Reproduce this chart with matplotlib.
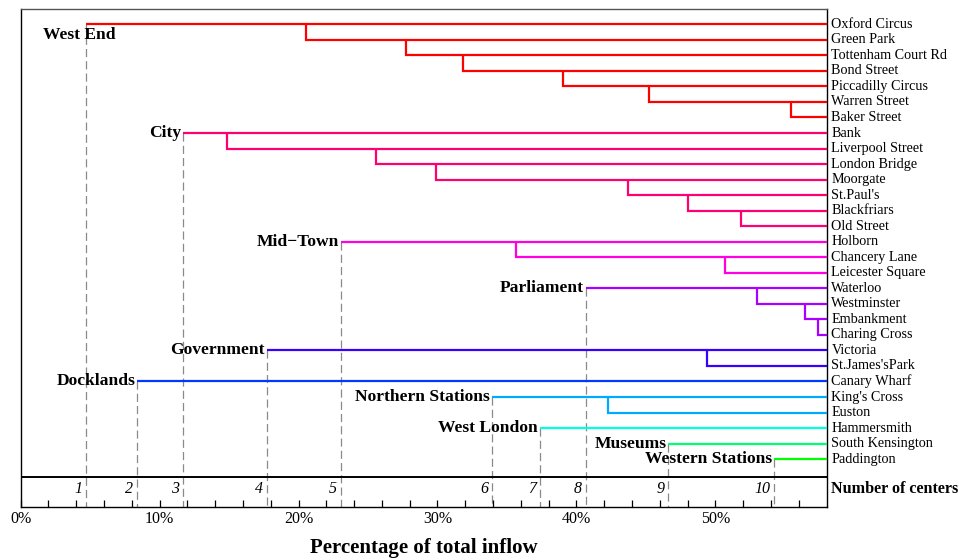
import matplotlib
matplotlib.use("Agg")
import matplotlib.pyplot as plt
import matplotlib.transforms as mtransforms
import numpy as np

plt.rcParams['font.family'] = ['Liberation Serif', 'DejaVu Serif']

# ---------------- data ----------------
stations = ["Oxford Circus", "Green Park", "Tottenham Court Rd", "Bond Street",
            "Piccadilly Circus", "Warren Street", "Baker Street",
            "Bank", "Liverpool Street", "London Bridge", "Moorgate", "St.Paul's",
            "Blackfriars", "Old Street",
            "Holborn", "Chancery Lane", "Leicester Square",
            "Waterloo", "Westminster", "Embankment", "Charing Cross",
            "Victoria", "St.James'sPark",
            "Canary Wharf",
            "King's Cross", "Euston",
            "Hammersmith",
            "South Kensington",
            "Paddington"]

# percentage at which each station splits from the previous one (None = group root)
split_pct = [None, 20.52, 27.74, 31.87, 39.02, 45.21, 55.41,
             None, 14.85, 25.60, 29.90, 43.74, 48.02, 51.88,
             None, 35.66, 50.66,
             None, 53.03, 56.46, 57.38,
             None, 49.43,
             None,
             None, 42.26,
             None,
             None,
             None]

groups = ["West End", "City", "Mid\u2212Town", "Parliament", "Government",
          "Docklands", "Northern Stations", "West London", "Museums",
          "Western Stations"]
group_sizes = [7, 7, 3, 4, 2, 1, 2, 1, 1, 1]
group_pct = [4.72, 11.71, 23.06, 40.70, 17.71, 8.39, 33.93, 37.39, 46.62, 54.23]
group_num = [1, 3, 5, 8, 4, 2, 6, 7, 9, 10]
group_colors = ["#FF0000", "#FF0071", "#FF00E3", "#AA00FF", "#3800FF",
                "#0038FF", "#00AAFF", "#00FFE3", "#00FF71", "#00FF00"]

x_max = 58.0
pct_ticks = np.arange(0, 58, 2)
pct_labels = [f"{int(t)}%" if t % 10 == 0 else "" for t in pct_ticks]

# ---------------- figure ----------------
W, H = 959, 560
fig = plt.figure(figsize=(W / 100, H / 100), dpi=100)
left, right, top, bottom = 20.7, 826.5, 9.0, 506.5
ax = fig.add_axes([left / W, 1 - bottom / H, (right - left) / W, (bottom - top) / H])

row0, drow = 24.3, 15.53
ylim_top = (top - row0) / drow
ylim_bot = (bottom - row0) / drow
sep_y = (477.0 - row0) / drow
num_y = (489.0 - row0) / drow

ax.set_xlim(0, x_max)
ax.set_ylim(ylim_bot, ylim_top)

lw = 1.6
idx = 0
for g, size in enumerate(group_sizes):
    col = group_colors[g]
    root = group_pct[g]
    y0 = idx
    ax.plot([root, x_max], [y0, y0], color=col, lw=lw, solid_capstyle='butt', zorder=3)
    for k in range(1, size):
        j = idx + k
        s = split_pct[j]
        ax.plot([s, s, x_max], [j - 1, j, j], color=col, lw=lw,
                solid_capstyle='butt', solid_joinstyle='miter', zorder=3)
    ax.plot([root, root], [y0, ylim_bot], color="#8a8a8a", lw=0.9,
            dashes=(6.5, 3.3), zorder=1)
    if g == 0:
        ax.annotate(groups[g], xy=(root, y0), xytext=(21, -7.5),
                    textcoords='offset points', ha='right', va='center',
                    fontsize=12.6, fontweight='bold', zorder=4)
    else:
        ax.annotate(groups[g], xy=(root, y0), xytext=(-1.5, 0),
                    textcoords='offset points', ha='right', va='center',
                    fontsize=12.6, fontweight='bold', zorder=4)
    ax.annotate(str(group_num[g]), xy=(root, num_y), xytext=(-3, 0),
                textcoords='offset points', ha='right', va='center',
                fontsize=11.5, fontstyle='italic')
    idx += size

trans = mtransforms.blended_transform_factory(ax.transAxes, ax.transData)
for i, name in enumerate(stations):
    ax.annotate(name, xy=(1, i), xycoords=trans, xytext=(3.5, 0),
                textcoords='offset points', ha='left', va='center',
                fontsize=10.2, annotation_clip=False)

ax.annotate("Number of centers", xy=(1, num_y), xycoords=trans, xytext=(3.5, 0),
            textcoords='offset points', ha='left', va='center',
            fontsize=11.6, fontweight='bold', annotation_clip=False)

ax.axhline(sep_y, color='black', lw=1.4, zorder=2)

ax.set_yticks([])
ax.set_xticks(pct_ticks)
ax.set_xticklabels(pct_labels, fontsize=11.5)
ax.tick_params(axis='x', direction='in', length=5.2, width=0.9, pad=3.5)
for sp in ax.spines.values():
    sp.set_color('black')
    sp.set_linewidth(1.0)
ax.spines['top'].set_color('#555555')
ax.set_xlabel("Percentage of total inflow", fontsize=15, fontweight='bold', labelpad=8)

fig.savefig("out.png", dpi=100)
